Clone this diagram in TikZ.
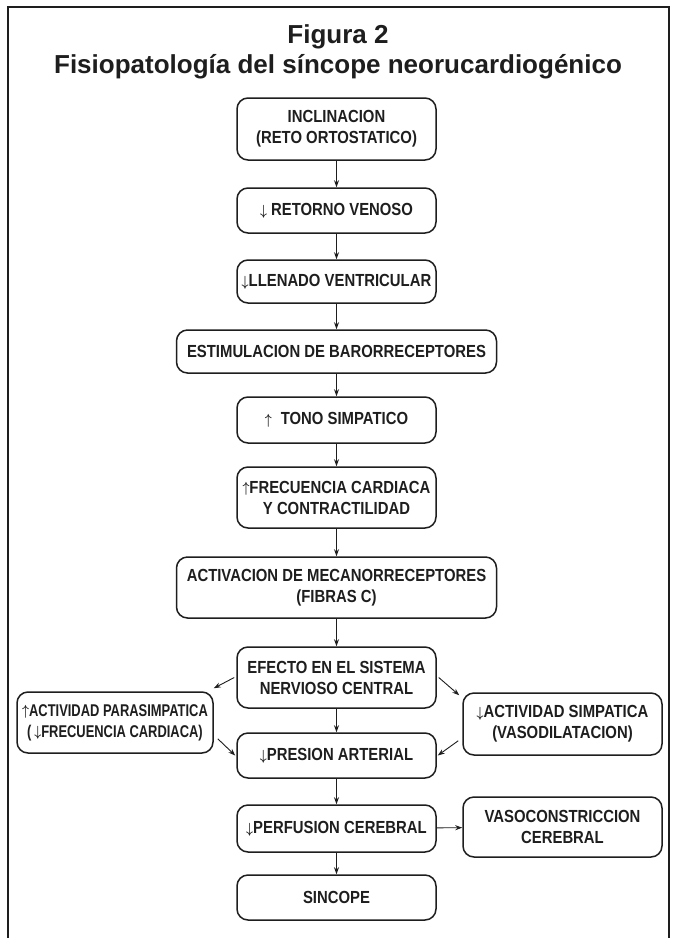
\documentclass[tikz,border=0pt]{standalone}
\usepackage{fontspec}
\usepackage{graphicx}
\usepackage{amsmath}
\setmainfont{Liberation Sans}
\newfontfamily\boxfont[FakeStretch=0.85]{Liberation Sans}
\newfontfamily\smallboxfont[FakeStretch=0.76]{Liberation Sans}
\usetikzlibrary{arrows.meta}
\definecolor{ink}{HTML}{1E1E1E}
\newcommand{\dnar}{\raisebox{0.3pt}{\scalebox{0.7}[0.85]{$\boldsymbol{\downarrow}$}}}
\newcommand{\upar}{\raisebox{0.3pt}{\scalebox{0.7}[0.85]{$\boldsymbol{\uparrow}$}}}
\begin{document}
\begin{tikzpicture}[x=1pt,y=-1pt,
  box/.style={draw=ink, line width=1.5pt, rounded corners=11pt, align=center, inner sep=0pt,
    text=ink, font=\boxfont\bfseries\fontsize{17.5}{21}\selectfont},
  mainbox/.style={box, minimum width=199pt},
  arr/.style={draw=ink, line width=0.9pt, -{Stealth[length=7pt,width=5pt]}},
  frame/.style={draw=ink, line width=2pt},
  titlefont/.style={font=\bfseries\fontsize{26}{30}\selectfont, text=ink}]
\useasboundingbox (0,0) rectangle (673,938);
\fill[white] (0,0) rectangle (673,938);
% frame
\draw[frame] (8,938) -- (8,7) -- (669,7) -- (669,938);
% title
\node[titlefont, anchor=base] (t1) at (338,43) {Figura 2};
\node[titlefont, anchor=base] (t2) at (338,73) {Fisiopatología del síncope neorucardiogénico};
% main column
\node[mainbox, minimum height=62pt] (b1) at (336.5,129) {INCLINACION\\(RETO ORTOSTATICO)};
\node[mainbox, minimum height=45pt] (b2) at (336.5,210.5) {\dnar\ RETORNO VENOSO};
\node[mainbox, minimum height=43pt] (b3) at (336.5,281.5) {\dnar LLENADO VENTRICULAR};
\node[box, minimum width=320pt, minimum height=43pt] (b4) at (336.5,351.5) {ESTIMULACION DE BARORRECEPTORES};
\node[mainbox, minimum height=46pt] (b5) at (336.5,420) {\upar\hspace{9pt}TONO SIMPATICO};
\node[mainbox, minimum height=61pt] (b6) at (336.5,497.5) {\upar FRECUENCIA CARDIACA\\Y CONTRACTILIDAD};
\node[box, minimum width=320pt, minimum height=61pt] (b7) at (336.5,587.5) {ACTIVACION DE MECANORRECEPTORES\\(FIBRAS C)};
\node[mainbox, minimum height=61pt] (b8) at (336.5,677.5) {EFECTO EN EL SISTEMA\\NERVIOSO CENTRAL};
\node[box, minimum width=196pt, minimum height=61pt, font=\smallboxfont\bfseries\fontsize{17}{21}\selectfont] (bl) at (115,722.5) {\upar ACTIVIDAD PARASIMPATICA\\(\,\dnar FRECUENCIA CARDIACA)};
\node[box, minimum width=199pt, minimum height=62pt] (br) at (562.5,724) {\dnar ACTIVIDAD SIMPATICA\\(VASODILATACION)};
\node[mainbox, minimum height=45pt] (b9) at (336.5,755.5) {\dnar PRESION ARTERIAL};
\node[mainbox, minimum height=47pt] (b10) at (336.5,828.5) {\dnar PERFUSION CEREBRAL};
\node[box, minimum width=199pt, minimum height=60pt] (bv) at (562.5,827) {VASOCONSTRICCION\\CEREBRAL};
\node[mainbox, minimum height=45pt] (b11) at (336.5,897.5) {SINCOPE};
% connectors
\draw[arr] (b1) -- (b2);
\draw[arr] (b2) -- (b3);
\draw[arr] (b3) -- (b4);
\draw[arr] (b4) -- (b5);
\draw[arr] (b5) -- (b6);
\draw[arr] (b6) -- (b7);
\draw[arr] (b7) -- (b8);
\draw[arr] (b8) -- (b9);
\draw[arr] (b9) -- (b10);
\draw[arr] (b10) -- (b11);
\draw[arr] (b10) -- (bv);
\draw[arr] ([xshift=-2pt]b8.west) -- ([yshift=3pt]bl.north east);
\draw[arr] ([shift={(4,-15)}]bl.south east) -- ([xshift=-1pt]b9.west);
\draw[arr] ([xshift=2pt]b8.east) -- ([shift={(-3,3)}]br.north west);
\draw[arr] ([shift={(-4,-15)}]br.south west) -- ([xshift=1pt]b9.east);
\end{tikzpicture}
\end{document}
